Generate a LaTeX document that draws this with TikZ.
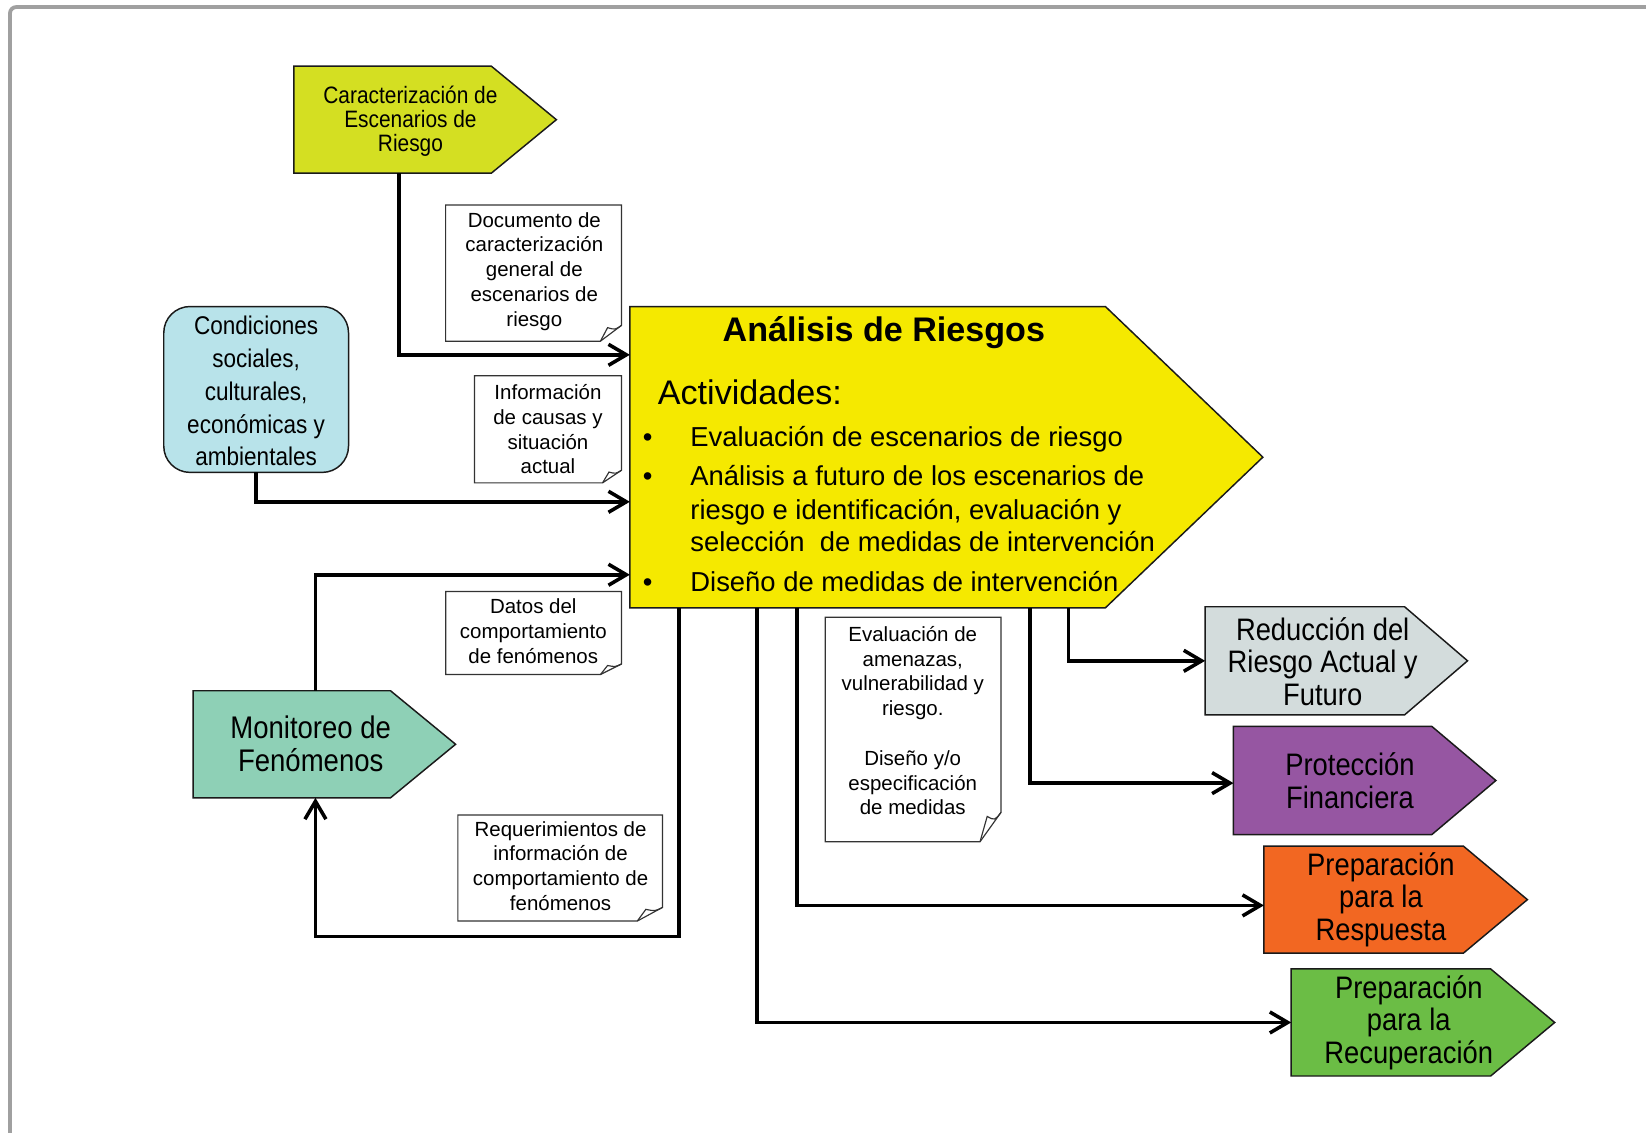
\documentclass[tikz,border=0pt]{standalone}
\usepackage{fontspec}
\setmainfont{Liberation Sans}
\newfontfamily\narrowfont[FakeStretch=0.88]{Liberation Sans}
\usetikzlibrary{arrows.meta,backgrounds}

\definecolor{framegray}{HTML}{A0A0A0}
\definecolor{carfill}{HTML}{D4DF22}
\definecolor{mainfill}{HTML}{F5E900}
\definecolor{condfill}{HTML}{B8E3EA}
\definecolor{monfill}{HTML}{8ED0B6}
\definecolor{redfill}{HTML}{D3DCDC}
\definecolor{profill}{HTML}{9656A2}
\definecolor{resfill}{HTML}{F26722}
\definecolor{recfill}{HTML}{6BBD45}
\definecolor{edge}{HTML}{1A1A1A}

% arrow-shaped box: body node, fill colour, length of the pointer
\newcommand\tagshape[3]{%
  \draw[shapeline, fill=#2] (#1.north west) -- (#1.north east)
    -- ([xshift=#3pt]#1.east) -- (#1.south east) -- (#1.south west) -- cycle;}
% document sheet with a curled bottom-right corner: node, horizontal cut, vertical cut
\newcommand\notecurl[3]{%
  \draw[noteline] (#1.north west) -- (#1.north east) -- ([yshift=#3pt]#1.south east)
    -- ([xshift=-#2pt]#1.south east) -- (#1.south west) -- cycle;
  \draw[noteline] ([yshift=#3pt]#1.south east)
    .. controls ([xshift={-0.3*#2pt},yshift={0.72*#3pt}]#1.south east)
    .. ([xshift={-0.66*#2pt},yshift={0.86*#3pt}]#1.south east)
    -- ([xshift=-#2pt]#1.south east);}

\tikzset{
  body/.style={inner sep=0pt, outer sep=0pt},
  shapeline/.style={draw=edge, line width=1.4pt, line join=miter},
  noteline/.style={draw=black!80, line width=1.1pt, line join=miter},
  conn/.style={line width=3.4pt, -{Straight Barb[length=17pt,width=20pt]}},
  notetxt/.style={align=center, inner sep=0pt, font=\fontsize{19.5}{23.6}\selectfont},
  tagtxt/.style={align=center, inner sep=0pt, font=\narrowfont\fontsize{29.6}{31}\selectfont},
  itemtxt/.style={anchor=base west, inner sep=0pt, font=\fontsize{26.1}{31}\selectfont},
  bullettxt/.style={anchor=base, inner sep=0pt, font=\fontsize{26.1}{31}\selectfont},
}

\begin{document}
\begin{tikzpicture}[x=1pt,y=-1pt]
\useasboundingbox (0,0) rectangle (1568,1079);

% ---- box bodies ----
\node[body, minimum width=188pt, minimum height=102pt] (car)  at (374,114) {};
\node[body, minimum width=176pt, minimum height=158pt] (cond) at (244,371) {};
\node[body, minimum width=453pt, minimum height=287pt] (main) at (826.5,435.5) {};
\node[body, minimum width=188pt, minimum height=102pt] (mon)  at (278,709) {};
\node[body, minimum width=190pt, minimum height=103pt] (red)  at (1243,629.5) {};
\node[body, minimum width=189pt, minimum height=103pt] (pro)  at (1269.5,743.5) {};
\node[body, minimum width=190pt, minimum height=102pt] (res)  at (1299,857) {};
\node[body, minimum width=190pt, minimum height=102pt] (rec)  at (1325,974) {};

% ---- document sheets ----
\node[body, minimum width=167.5pt, minimum height=129.7pt] (doc) at (508.25,260.15) {};
\node[body, minimum width=140pt,   minimum height=102pt]   (inf) at (522,409) {};
\node[body, minimum width=167.4pt, minimum height=79.1pt]  (dat) at (508.3,603) {};
\node[body, minimum width=194.9pt, minimum height=101pt]   (req) at (533.65,826.9) {};
\node[body, minimum width=167.4pt, minimum height=213.8pt] (eva) at (869.9,694.9) {};

% ---- texts of the boxes ----
\node[align=center, inner sep=0pt, font=\narrowfont\fontsize{22.6}{23}\selectfont] (cart) at (391,115.5)
  {Caracterización de\\Escenarios de\\Riesgo};
\node[align=center, inner sep=0pt, font=\narrowfont\fontsize{24.4}{31.3}\selectfont] (condt) at (244,372.5)
  {Condiciones\\sociales,\\culturales,\\económicas y\\ambientales};
\node[align=center, inner sep=0pt, font=\narrowfont\fontsize{29.8}{31}\selectfont] (mont) at (296,708.5)
  {Monitoreo de\\Fenómenos};
\node[tagtxt] (redt) at (1260,630) {Reducción del\\Riesgo Actual y\\Futuro};
\node[tagtxt] (prot) at (1286,743.5) {Protección\\Financiera};
\node[tagtxt] (rest) at (1315.5,857) {Preparación\\para la\\Respuesta};
\node[tagtxt] (rect) at (1342,974) {Preparación\\para la\\Recuperación};

% ---- main process ----
\node[anchor=base, inner sep=0pt, font=\bfseries\fontsize{32.5}{36}\selectfont] (title) at (842,325.5)
  {Análisis de Riesgos};
\node[anchor=base west, inner sep=0pt, font=\fontsize{32.5}{36}\selectfont] (act) at (626.5,385.5)
  {Actividades:};
\node[bullettxt] (bu1) at (617,425.5) {\textbullet};
\node[bullettxt] (bu2) at (617,462.5) {\textbullet};
\node[bullettxt] (bu3) at (617,563.5) {\textbullet};
\node[itemtxt] (it1)  at (657.5,425.5) {Evaluación de escenarios de riesgo};
\node[itemtxt] (it2a) at (657.5,462.5) {Análisis a futuro de los escenarios de};
\node[itemtxt] (it2b) at (657.5,494.5) {riesgo e identificación, evaluación y};
\node[itemtxt] (it2c) at (657.5,525.5) {selección\ \ de medidas de intervención};
\node[itemtxt] (it3)  at (657.5,563.5) {Diseño de medidas de intervención};

% ---- texts of the document sheets ----
\node[notetxt] (doct) at (509,258.5)
  {Documento de\\caracterización\\general de\\escenarios de\\riesgo};
\node[notetxt] (inft) at (522,409)
  {Información\\de causas y\\situación\\actual};
\node[notetxt] (datt) at (508,601.5)
  {Datos del\\comportamiento\\de fenómenos};
\node[notetxt] (reqt) at (534,825)
  {Requerimientos de\\información de\\comportamiento de\\fenómenos};
\node[notetxt] (evat) at (869.5,686.5)
  {Evaluación de\\amenazas,\\vulnerabilidad y\\riesgo.\\[23.6pt]Diseño y/o\\especificación\\de medidas};

% ---- connectors ----
\draw[conn] ([xshift=6pt]car.south) |- ([yshift=-46pt]main.north west);
\draw[conn] (cond.south) |- ([yshift=-186pt]main.north west);
\draw[conn] ([xshift=22.5pt]mon.north) |- ([yshift=-255.5pt]main.north west);
\draw[conn] ([xshift=47pt]main.south west) -- ++(0,313) -| ([xshift=22.5pt]mon.south);
\draw[conn] ([xshift=121pt]main.south west) |- (rec.west);
\draw[conn] ([xshift=159pt]main.south west) |- ([yshift=-5.5pt]res.west);
\draw[conn] ([xshift=381pt]main.south west) |- ([yshift=-2.5pt]pro.west);
\draw[conn] ([xshift=418pt]main.south west) |- (red.west);

% ---- outlines and fills ----
\begin{scope}[on background layer]
  \fill[white] (0,0) rectangle (1568,1079);
  \draw[line width=3.6pt, framegray, rounded corners=6pt] (9.5,1100) -- (9.5,6.7) -- (1600,6.7);
  \tagshape{car}{carfill}{62}
  \draw[shapeline, fill=condfill, rounded corners=25pt] (cond.north west) rectangle (cond.south east);
  \tagshape{main}{mainfill}{150}
  \tagshape{mon}{monfill}{62}
  \tagshape{red}{redfill}{60}
  \tagshape{pro}{profill}{61}
  \tagshape{res}{resfill}{61}
  \tagshape{rec}{recfill}{61}
  \notecurl{doc}{20}{15}
  \notecurl{inf}{18}{12}
  \notecurl{dat}{20}{10}
  \notecurl{req}{24}{13}
  \notecurl{eva}{20}{28}
\end{scope}
\end{tikzpicture}
\end{document}
